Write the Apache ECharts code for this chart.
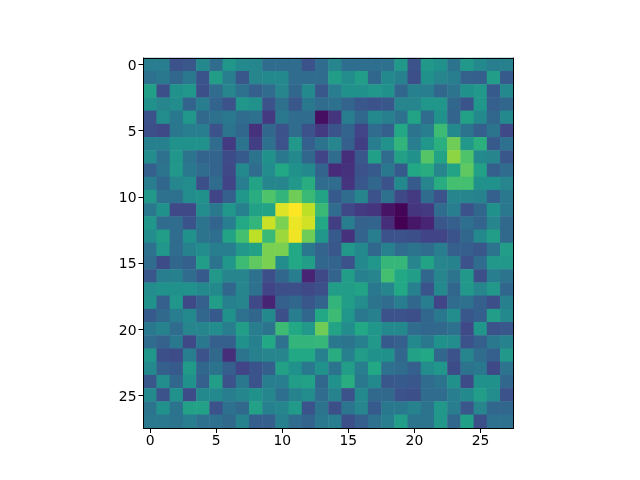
<!DOCTYPE html>
<html><head><meta charset="utf-8">
<style>html,body{margin:0;padding:0;background:#fff}#c{width:640px;height:480px}</style>
<script src="https://cdn.jsdelivr.net/npm/echarts@6/dist/echarts.min.js"></script>
</head><body><div id="c"></div>
<script>
const xLabels = Array.from({length:28},(_, i)=>String(i));
const yLabels = Array.from({length:28},(_, i)=>String(i));
const row00=[42,42,25,27,47,35,52,47,46,35,35,35,25,35,45,36,36,36,37,53,25,53,50,38,53,47,42,43];
const row01=[37,40,33,40,26,55,42,27,45,47,47,35,35,35,55,48,55,33,47,43,24,50,45,42,31,30,55,28];
const row02=[56,24,50,52,24,35,45,37,30,35,45,33,47,27,42,50,50,52,50,33,43,42,33,38,50,53,28,47];
const row03=[50,45,48,32,42,32,25,52,50,25,37,27,40,35,37,32,27,25,27,45,45,52,52,33,26,52,30,33];
const row04=[25,48,40,52,34,37,40,35,37,17,40,35,35,4,15,42,33,47,43,37,58,35,50,32,57,47,33,47];
const row05=[24,22,40,42,42,25,38,33,14,33,25,35,25,17,26,32,20,35,30,60,38,42,68,47,38,30,38,22];
const row06=[43,43,50,50,50,35,17,38,18,37,25,53,30,38,45,30,18,42,50,65,42,52,63,78,53,63,28,37];
const row07=[48,37,52,38,32,32,23,28,38,50,40,47,33,20,35,13,27,56,35,57,50,73,58,83,72,47,45,27];
const row08=[30,38,53,40,35,32,22,47,35,48,60,50,47,32,12,14,25,28,40,28,60,62,45,58,75,57,30,35];
const row09=[42,33,46,48,24,35,20,42,58,46,45,53,62,35,35,15,27,33,25,47,28,45,62,70,70,50,50,45];
const row10=[53,37,37,48,50,20,30,52,62,72,65,78,67,58,28,35,45,25,37,22,17,35,25,45,45,44,30,40];
const row11=[40,50,22,22,48,40,52,43,57,58,95,100,90,67,35,22,17,15,5,1,15,17,35,42,25,33,50,40];
const row12=[52,35,35,26,38,32,42,60,65,92,80,97,93,60,18,42,31,32,13,0,6,10,27,30,36,32,45,34];
const row13=[48,55,35,50,38,36,58,70,90,67,85,98,78,52,28,14,32,42,25,25,24,20,20,26,33,47,55,34];
const row14=[37,52,35,44,48,42,42,53,57,80,80,60,40,32,27,53,47,33,43,35,38,35,42,30,30,27,38,55];
const row15=[35,23,33,30,55,38,52,68,75,80,48,60,55,33,32,25,47,52,66,66,45,58,45,44,25,35,53,53];
const row16=[27,42,43,35,28,53,45,45,37,24,33,42,10,22,32,55,43,45,70,60,55,33,45,38,53,24,42,38];
const row17=[48,50,50,50,47,47,33,45,37,20,24,24,22,24,55,55,58,40,45,60,43,26,47,33,53,45,53,33];
const row18=[50,30,52,22,30,55,43,45,22,10,30,33,27,32,65,55,48,38,35,42,33,42,20,35,37,30,24,43];
const row19=[28,34,42,47,33,28,50,37,33,47,24,42,33,60,68,52,40,43,25,25,24,33,40,48,27,30,55,47];
const row20=[40,44,35,45,45,48,42,55,42,38,68,60,53,78,58,48,60,52,47,47,35,33,34,37,22,52,25,27];
const row21=[35,31,40,22,40,30,30,50,43,60,37,65,65,66,40,38,43,53,28,30,47,40,50,48,25,30,40,44];
const row22=[52,24,23,42,25,34,13,38,43,45,45,60,60,43,62,43,55,50,50,33,57,60,33,25,45,35,30,53];
const row23=[47,30,28,54,33,38,30,20,26,30,57,50,40,50,38,55,42,60,37,35,30,48,52,23,38,40,22,38];
const row24=[27,48,33,50,30,55,25,40,26,42,42,55,57,33,50,62,40,47,27,28,27,35,38,50,23,50,50,33];
const row25=[47,25,50,23,47,47,42,46,50,46,36,44,48,35,44,25,47,34,34,25,24,35,35,42,47,55,48,25];
const row26=[38,50,38,57,57,25,37,34,57,43,46,54,26,38,24,39,45,28,40,40,44,38,53,42,27,45,33,33];
const row27=[40,40,38,42,37,37,34,44,30,30,43,35,32,40,42,24,30,37,42,55,38,38,53,33,56,24,37,37];
const rows=[row00,row01,row02,row03,row04,row05,row06,row07,row08,row09,row10,row11,row12,row13,row14,row15,row16,row17,row18,row19,row20,row21,row22,row23,row24,row25,row26,row27];
const viridis=['#440154','#482475','#414487','#355f8d','#2a788e','#21918c','#22a884','#44bf70','#7ad151','#bddf26','#fde725'];
const cells=[];
rows.forEach((r,y)=>r.forEach((v,x)=>cells.push([x,y,v])));
const labX={show:true,interval:4,color:'#000',fontFamily:'DejaVu Sans',fontSize:13.9,margin:6};
const labY={show:true,interval:4,margin:7,formatter:v=>`{a|${v}}`,
  rich:{a:{color:'#000',fontFamily:'DejaVu Sans',fontSize:13.9,padding:[4,0,0,0]}}};
const tick={show:true,interval:4,alignWithLabel:true,length:5,lineStyle:{color:'#000',width:1}};
const line={show:true,onZero:false,lineStyle:{color:'#000',width:1}};
const chart=echarts.init(document.getElementById('c'),null,{renderer:'canvas'});
chart.setOption({
  animation:false,
  backgroundColor:'#fff',
  grid:{left:143.5,right:126.5,top:58,bottom:52,containLabel:false},
  xAxis:[
    {type:'category',data:xLabels,position:'bottom',z:5,axisLine:line,axisTick:tick,axisLabel:labX,splitLine:{show:false},splitArea:{show:false}},
    {type:'category',data:xLabels,position:'top',z:5,axisLine:line,axisTick:{show:false},axisLabel:{show:false},splitLine:{show:false}}
  ],
  yAxis:[
    {type:'category',data:yLabels,inverse:true,position:'left',z:5,axisLine:line,axisTick:tick,axisLabel:labY,splitLine:{show:false},splitArea:{show:false}},
    {type:'category',data:yLabels,inverse:true,position:'right',z:5,axisLine:line,axisTick:{show:false},axisLabel:{show:false},splitLine:{show:false}}
  ],
  visualMap:{show:false,min:0,max:100,dimension:2,inRange:{color:viridis}},
  series:[{type:'heatmap',data:cells,xAxisIndex:0,yAxisIndex:0,progressive:0,itemStyle:{borderWidth:0},emphasis:{disabled:true}}]
});
</script></body></html>
